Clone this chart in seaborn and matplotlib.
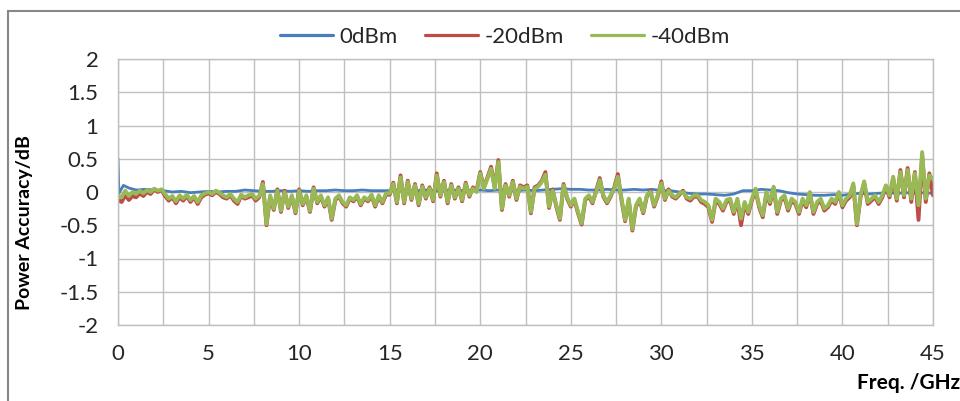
import numpy as np
import pandas as pd
import matplotlib
matplotlib.use("Agg")
import matplotlib.pyplot as plt
import seaborn as sns
from matplotlib.patches import Rectangle

# Data (Power accuracy in dB vs frequency in GHz)
series_names = ["0dBm", "-20dBm", "-40dBm"]
series_colors = ["#4A7EBB", "#BE4B48", "#98B954"]
series_widths = [2.0, 2.8, 2.8]

x_ticks = [0, 5, 10, 15, 20, 25, 30, 35, 40, 45]
y_ticks = [-2, -1.5, -1, -0.5, 0, 0.5, 1, 1.5, 2]
y_tick_labels = ["-2", "-1.5", "-1", "-0.5", "0", "0.5", "1", "1.5", "2"]

# 0dBm trace: few points at the start, then every 0.5 GHz
blue_freq = [0.0, 0.05, 0.3, 0.6] + list(np.arange(1.0, 45.01, 0.5))
blue_vals = [
    0.50, -0.02, 0.10, 0.06,
    0.03, 0.04, 0.03, 0.02, 0.00, 0.01, -0.01, 0.00, 0.01, 0.00,   # 1.0 - 5.5
    0.01, 0.01, 0.03, 0.02, 0.01, 0.01, 0.02, 0.01, 0.02, 0.01,    # 6.0 - 10.5
    0.02, 0.02, 0.03, 0.02, 0.02, 0.03, 0.02, 0.02, 0.02, 0.03,    # 11.0 - 15.5
    0.02, 0.02, 0.03, 0.02, 0.02, 0.03, 0.02, 0.02, 0.03, 0.02,    # 16.0 - 20.5
    0.03, 0.03, 0.02, 0.03, 0.02, 0.03, 0.04, 0.05, 0.04, 0.04,    # 21.0 - 25.5
    0.03, 0.03, 0.04, 0.03, 0.03, 0.04, 0.03, 0.04, 0.02, 0.02,    # 26.0 - 30.5
    0.00, -0.02, -0.03, -0.03, -0.04, -0.05, -0.03, 0.02, 0.02, 0.04,  # 31.0 - 35.5
    0.03, 0.02, -0.01, -0.03, -0.04, -0.05, -0.05, -0.04, -0.05, -0.03,  # 36.0 - 40.5
    -0.02, -0.03, -0.02, -0.01, -0.02, -0.01, -0.02, -0.01, -0.02,  # 41.0 - 45.0
]

# -20dBm and -40dBm traces: every 0.2 GHz from 0 to 45
noisy_freq = np.round(np.arange(0, 45.001, 0.2), 1)

red_vals = [
    -0.12, -0.15, -0.05, -0.12, -0.06,
    -0.08, -0.02, -0.06, 0.00, -0.03,
    0.04, 0.00, 0.03, -0.06, -0.13,
    -0.08, -0.17, -0.08, -0.13, -0.06,
    -0.15, -0.08, -0.18, -0.08, -0.04,
    -0.02, -0.05, 0.00, -0.03, -0.08,
    -0.10, -0.05, -0.13, -0.18, -0.06,
    -0.10, -0.08, -0.05, -0.13, -0.08,
    0.15, -0.50, -0.07, -0.27, 0.04,
    -0.30, 0.02, -0.24, -0.07, -0.32,
    0.04, -0.20, -0.07, -0.30, 0.07,
    -0.17, -0.07, -0.22, -0.10, -0.42,
    -0.12, -0.07, -0.17, -0.22, -0.10,
    -0.14, -0.07, -0.20, -0.10, -0.14,
    -0.06, -0.22, -0.07, -0.17, -0.04,
    -0.04, 0.14, -0.17, 0.25, -0.17,
    0.17, -0.12, 0.12, -0.20, 0.10,
    -0.10, 0.07, -0.14, 0.28, -0.07,
    0.17, -0.17, 0.12, -0.10, 0.07,
    -0.14, 0.14, -0.07, 0.07, 0.02,
    0.30, 0.07, 0.22, 0.38, 0.07,
    0.48, -0.27, 0.12, -0.07, 0.17,
    -0.12, 0.10, 0.07, 0.10, -0.32,
    0.07, 0.10, 0.17, 0.30, -0.24,
    0.04, -0.22, -0.42, 0.12, -0.10,
    -0.22, -0.12, -0.32, -0.49, -0.12,
    -0.07, -0.17, 0.02, 0.21, -0.07,
    -0.17, -0.07, 0.07, 0.27, -0.12,
    -0.44, -0.12, -0.58, -0.22, -0.12,
    -0.32, -0.07, 0.02, -0.22, -0.07,
    0.16, -0.12, 0.04, -0.07, -0.10,
    -0.04, 0.02, -0.10, -0.13, -0.07,
    -0.07, -0.15, -0.18, -0.23, -0.45,
    -0.13, -0.18, -0.28, -0.15, -0.13,
    -0.33, -0.13, -0.50, -0.18, -0.33,
    -0.13, 0.03, -0.23, -0.38, -0.03,
    -0.18, 0.06, -0.33, -0.13, -0.08,
    -0.28, -0.13, -0.18, -0.33, -0.13,
    -0.23, -0.02, -0.33, -0.18, -0.13,
    -0.28, -0.23, -0.13, -0.18, -0.02,
    -0.23, -0.13, -0.08, 0.10, -0.50,
    -0.08, 0.13, -0.18, -0.13, -0.08,
    -0.18, -0.08, 0.08, -0.08, 0.20,
    -0.13, 0.33, -0.08, 0.36, -0.15,
    0.30, -0.42, 0.55, -0.15, 0.28,
    -0.05,
]

green_vals = [
    -0.05, -0.08, 0.02, -0.06, 0.00,
    -0.03, 0.02, -0.02, 0.03, 0.00,
    0.05, 0.02, 0.04, -0.03, -0.10,
    -0.06, -0.14, -0.05, -0.10, -0.04,
    -0.12, -0.06, -0.15, -0.05, -0.02,
    0.00, -0.03, 0.02, -0.01, -0.05,
    -0.08, -0.03, -0.10, -0.15, -0.04,
    -0.08, -0.05, -0.03, -0.10, -0.06,
    0.12, -0.48, -0.05, -0.25, 0.02,
    -0.28, 0.00, -0.22, -0.05, -0.30,
    0.02, -0.18, -0.05, -0.28, 0.05,
    -0.15, -0.05, -0.20, -0.08, -0.40,
    -0.10, -0.05, -0.15, -0.20, -0.08,
    -0.12, -0.05, -0.18, -0.08, -0.12,
    -0.04, -0.20, -0.05, -0.15, -0.02,
    -0.02, 0.12, -0.15, 0.22, -0.15,
    0.15, -0.10, 0.10, -0.18, 0.08,
    -0.08, 0.05, -0.12, 0.25, -0.05,
    0.15, -0.15, 0.10, -0.08, 0.05,
    -0.12, 0.12, -0.05, 0.05, 0.00,
    0.28, 0.05, 0.20, 0.35, 0.05,
    0.45, -0.25, 0.10, -0.05, 0.15,
    -0.10, 0.08, 0.05, 0.08, -0.30,
    0.05, 0.08, 0.15, 0.26, -0.22,
    0.02, -0.20, -0.40, 0.10, -0.08,
    -0.20, -0.10, -0.30, -0.47, -0.10,
    -0.05, -0.15, 0.00, 0.18, -0.05,
    -0.15, -0.05, 0.05, 0.23, -0.10,
    -0.42, -0.10, -0.56, -0.20, -0.10,
    -0.30, -0.05, 0.00, -0.20, -0.05,
    0.13, -0.10, 0.02, -0.05, -0.08,
    -0.02, 0.00, -0.08, -0.10, -0.05,
    -0.05, -0.12, -0.15, -0.20, -0.42,
    -0.10, -0.15, -0.25, -0.12, -0.10,
    -0.30, -0.10, -0.40, -0.15, -0.30,
    -0.10, 0.05, -0.20, -0.35, 0.00,
    -0.15, 0.08, -0.30, -0.10, -0.05,
    -0.25, -0.10, -0.15, -0.30, -0.10,
    -0.20, 0.00, -0.30, -0.15, -0.10,
    -0.25, -0.20, -0.10, -0.15, 0.00,
    -0.20, -0.10, -0.05, 0.13, -0.48,
    -0.05, 0.16, -0.15, -0.10, -0.05,
    -0.15, -0.05, 0.10, -0.05, 0.23,
    -0.10, 0.30, -0.05, 0.33, -0.10,
    0.28, -0.20, 0.60, -0.10, 0.25,
    0.20,
]

# long-form table for seaborn
df = pd.concat([
    pd.DataFrame({"freq": blue_freq, "acc": blue_vals, "series": series_names[0]}),
    pd.DataFrame({"freq": noisy_freq, "acc": red_vals, "series": series_names[1]}),
    pd.DataFrame({"freq": noisy_freq, "acc": green_vals, "series": series_names[2]}),
], ignore_index=True)

sns.set_theme(style="white")
plt.rcParams["font.family"] = ["Lato", "DejaVu Sans"]
plt.rcParams["axes.unicode_minus"] = False

fig = plt.figure(figsize=(9.6, 4.01), dpi=100)
ax = fig.add_axes([118 / 960, 1 - 325 / 401, (933 - 118) / 960, (325 - 59) / 401])

sns.lineplot(data=df, x="freq", y="acc", hue="series", hue_order=series_names,
             palette=series_colors, estimator=None, sort=False, linewidth=2.5,
             legend=False, ax=ax)
for line, w in zip(ax.lines, series_widths):
    line.set_linewidth(w)
    line.set_solid_joinstyle("round")

ax.set_xlim(0, 45)
ax.set_ylim(-2, 2)
ax.set_xticks(x_ticks)
ax.set_xticks(np.arange(0, 45.01, 2.5), minor=True)
ax.set_yticks(y_ticks)
ax.set_yticklabels(y_tick_labels)
ax.grid(True, which="both", color="#BFBFBF", linewidth=1.0)
ax.set_axisbelow(True)
for sp in ax.spines.values():
    sp.set_color("#BFBFBF")
    sp.set_linewidth(1.0)
ax.tick_params(axis="both", which="both", length=0, labelsize=16, colors="#262626")
ax.tick_params(axis="y", pad=14)
ax.tick_params(axis="x", pad=14)
ax.set_xlabel("")
ax.set_ylabel("")

# legend at the top, no frame
handles = [plt.Line2D([], [], color=c, linewidth=2.3) for c in series_colors]
fig.legend(handles, series_names, loc="center", bbox_to_anchor=(505 / 960, 1 - 37 / 401),
           ncol=3, frameon=False, fontsize=16, handlelength=2.4, handletextpad=0.3,
           columnspacing=1.2, labelcolor="#262626")

fig.text(25 / 960, 1 - 223 / 401, "Power Accuracy/dB", rotation=90, ha="center",
         va="center", fontsize=14, fontweight="bold", color="black")
fig.text(1.0, 1 - 383 / 401, "Freq. /GHz", ha="right", va="center", fontsize=15,
         fontweight="bold", color="black")

# outer chart frame (cut off on the right and bottom like the reference)
fig.patches.append(Rectangle((8 / 960, -0.1), 1.2, 1 - 11 / 401 + 0.1,
                             transform=fig.transFigure, fill=False,
                             edgecolor="#878787", linewidth=1.5))

fig.savefig("out.png", dpi=100)
